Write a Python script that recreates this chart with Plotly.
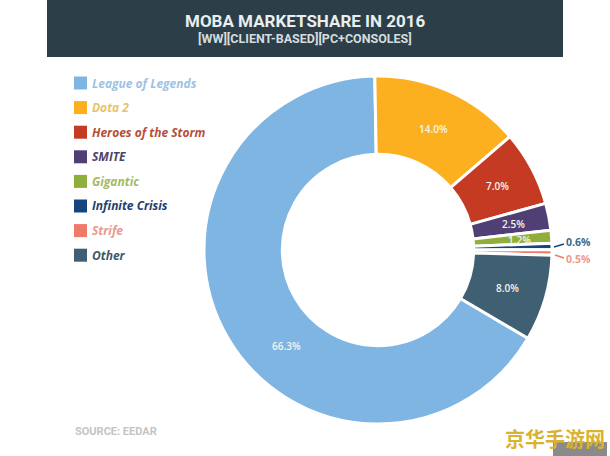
import plotly.graph_objects as go

games = ["League of Legends", "Dota 2", "Heroes of the Storm", "SMITE", "Gigantic",
         "Infinite Crisis", "Strife", "Other"]
share = [66.3, 14.0, 7.0, 2.5, 1.2, 0.6, 0.5, 8.0]
colors = ["#7fb5e3", "#fdb01f", "#c53a22", "#4f3f75", "#8fae3c", "#15457f", "#ef7a68", "#3f5f73"]
legend_text = ["#9cc3e4", "#e8c468", "#b5503c", "#4a4468", "#a3ba62", "#23406f", "#e89a8c", "#41586a"]
outside_text = {"Infinite Crisis": "#3f6a8c", "Strife": "#ef9a8c"}

W, H = 610, 456
cx, cy, r = 378, 250, 174

# where each percentage sits on the page, in pixels
label_x = [286, 433, 497, 513, 519, 564, 564, 507]
label_y = [346, 129, 186, 224, 240, 242, 259, 288]


def px(x):
    return x / W


def py(y):
    return 1 - y / H


fig = go.Figure(go.Pie(
    labels=games,
    values=share,
    sort=False,
    direction="clockwise",
    rotation=120.5,
    hole=0.55,
    marker=dict(colors=colors, line=dict(color="white", width=3)),
    textinfo="none",
    showlegend=False,
    domain=dict(x=[px(cx - r), px(cx + r)], y=[py(cy + r), py(cy - r)]),
))

shapes = [
    dict(type="rect", xref="paper", yref="paper", x0=px(47), x1=px(563), y0=py(0), y1=py(57),
         fillcolor="#2c3f48", line_width=0, layer="below"),
    # leader lines of the two small slices
    dict(type="line", xref="paper", yref="paper", x0=px(554), x1=px(564), y0=py(247), y1=py(244),
         line=dict(color="#15457f", width=1.5)),
    dict(type="line", xref="paper", yref="paper", x0=px(555), x1=px(564), y0=py(255), y1=py(258),
         line=dict(color="#ef7a68", width=1.5)),
    dict(type="rect", xref="paper", yref="paper", x0=px(553), x1=px(607), y0=py(456), y1=py(442),
         fillcolor="#8a8a8a", line_width=0),
]

annotations = [
    dict(x=px(305), y=py(21), text="<b>MOBA MARKETSHARE IN 2016</b>", xanchor="center",
         font=dict(family="Roboto", size=17, color="#e9eef0")),
    dict(x=px(305), y=py(38), text="<b>[WW][CLIENT-BASED][PC+CONSOLES]</b>", xanchor="center",
         font=dict(family="Roboto", size=12.5, color="#d5dcdf")),
    dict(x=px(73), y=py(431), text="<b>SOURCE: EEDAR</b>", xanchor="left",
         font=dict(family="Roboto", size=11, color="#c4c4c4")),
    dict(x=px(555), y=py(438), text="<b>京华手游网</b>", xanchor="center",
         font=dict(family="Noto Sans CJK SC", size=20, color="#d9b330")),
]

for i, game in enumerate(games):
    y = 83 + i * 24.6
    shapes.append(dict(type="rect", xref="paper", yref="paper", x0=px(74), x1=px(87),
                       y0=py(y - 6.5), y1=py(y + 6.5), fillcolor=colors[i], line_width=0))
    annotations.append(dict(x=px(90), y=py(y), text=f"<b><i>{game}</i></b>", xanchor="left",
                            font=dict(family="Open Sans", size=12, color=legend_text[i])))

    if share[i] < 1:
        # the two thin slices are labelled outside the ring
        annotations.append(dict(x=px(label_x[i]), y=py(label_y[i]), text=f"<b>{share[i]:.1f}%</b>",
                                xanchor="left",
                                font=dict(family="Open Sans", size=10.5, color=outside_text[game])))
    else:
        annotations.append(dict(x=px(label_x[i]), y=py(label_y[i]), text=f"{share[i]:.1f}%",
                                xanchor="center",
                                font=dict(family="Open Sans", size=10, weight=600, color="#f4f4ee")))

for a in annotations:
    a.update(xref="paper", yref="paper", showarrow=False, yanchor="middle")

fig.update_layout(
    width=W,
    height=H,
    margin=dict(l=0, r=0, t=0, b=0),
    paper_bgcolor="white",
    shapes=shapes,
    annotations=annotations,
)

# drop the page's default body margin so the chart sits at the window corner
fig.write_html("out.html", config=dict(displayModeBar=False),
               post_script="document.body.style.margin = '0';")
